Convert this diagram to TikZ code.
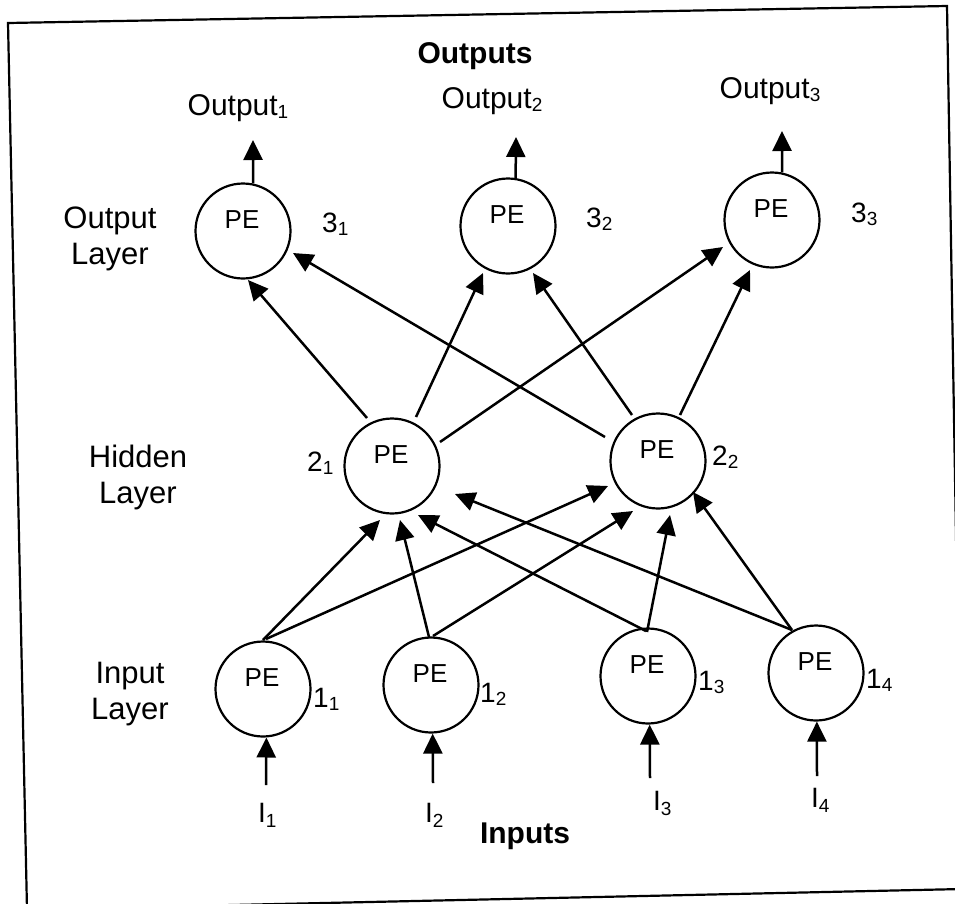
\documentclass[tikz,border=0pt]{standalone}
\usepackage{fontspec}
\setmainfont{Liberation Sans}
\usetikzlibrary{arrows.meta}
\newcommand\sbs[1]{\raisebox{-3pt}{\fontsize{19}{19}\selectfont #1}}
\newcommand\sbi[1]{\raisebox{-5pt}{\fontsize{19}{19}\selectfont #1}}
\begin{document}
\begin{tikzpicture}[x=1pt,y=-1pt,
  pe/.style={circle, draw, line width=2.2pt, minimum size=95pt, inner sep=0pt,
    label={[yshift=11pt,xshift=-1pt,font=\fontsize{26}{26}\selectfont]center:PE}},
  conn/.style={line width=2.5pt, -{Triangle[length=20pt,width=19pt]}},
  layerlbl/.style={align=center, inner sep=0pt, font=\fontsize{31}{36}\selectfont},
  toplbl/.style={anchor=base, inner sep=0pt, font=\fontsize{30}{30}\selectfont},
  numlbl/.style={anchor=base west, inner sep=0pt, font=\fontsize{28}{28}\selectfont},
  boldlbl/.style={anchor=base, inner sep=0pt, font=\fontsize{30}{30}\selectfont\bfseries}]
\useasboundingbox (0,0) rectangle (955,903);
\clip (0,0) rectangle (955,903);
% frame
\draw[line width=2.2pt] (8,23) -- (947,6) -- (962,889) -- (27,909.5) -- cycle;

% nodes
\node[pe] (o1) at (243,231) {};
\node[pe] (o2) at (508,226) {};
\node[pe] (o3) at (772,220) {};
\node[pe] (h1) at (392,466) {};
\node[pe] (h2) at (658,461) {};
\node[pe] (i1) at (263,689) {};
\node[pe] (i2) at (431,685) {};
\node[pe] (i3) at (648,676) {};
\node[pe] (i4) at (816,673) {};

% labels
\node[boldlbl] (outs) at (475,63) {Outputs};
\node[boldlbl] (ins) at (525,843) {Inputs};
\node[toplbl] (t1) at (238,115) {Output\sbs{1}};
\node[toplbl] (t2) at (492,108) {Output\sbs{2}};
\node[toplbl] (t3) at (770,98) {Output\sbs{3}};
\node[layerlbl] (lo) at (110,239) {Output\\Layer};
\node[layerlbl] (lh) at (138,477) {Hidden\\Layer};
\node[layerlbl] (li) at (130,694) {Input\\Layer};
\node[numlbl] (n31) at (322,232) {3\sbs{1}};
\node[numlbl] (n32) at (586,227) {3\sbs{2}};
\node[numlbl] (n33) at (851,222) {3\sbs{3}};
\node[numlbl] (n21) at (307,471) {2\sbs{1}};
\node[numlbl] (n22) at (712,465) {2\sbs{2}};
\node[numlbl] (n11) at (313,707) {1\sbs{1}};
\node[numlbl] (n12) at (480,702) {1\sbs{2}};
\node[numlbl] (n13) at (698,690) {1\sbs{3}};
\node[numlbl] (n14) at (866,688) {1\sbs{4}};
\node[numlbl] (x1) at (258,822) {I\sbi{1}};
\node[numlbl] (x2) at (425,822) {I\sbi{2}};
\node[numlbl] (x3) at (653,810) {I\sbi{3}};
\node[numlbl] (x4) at (811,807) {I\sbi{4}};

% free ends
\coordinate (a1) at (253,140);
\coordinate (a2) at (516,137);
\coordinate (a3) at (782,131);
\coordinate (b1) at (266,785);
\coordinate (b2) at (433,783);
\coordinate (b3) at (650,778);
\coordinate (b4) at (817,776);

% output arrows
\draw[conn] (o1.78) -- (a1);
\draw[conn] (o2.81) -- (a2);
\draw[conn] (o3.78) -- (a3);

% input arrows
\draw[conn] (b1) -- (i1.274);
\draw[conn] (b2) -- (i2.272);
\draw[conn] (b3) -- (i3.272);
\draw[conn] (b4) -- (i4.271);

% hidden -> output
\draw[conn] ([shift={(-25,-48)}]h1.center) -- ([shift={(5,49)}]o1.center);
\draw[conn] ([shift={(24,-49)}]h1.center) -- ([shift={(-25,47)}]o2.center);
\draw[conn] ([shift={(48,-24)}]h1.center) -- ([shift={(-49,27)}]o3.center);
\draw[conn] ([shift={(-53,-24)}]h2.center) -- ([shift={(50,22)}]o1.center);
\draw[conn] ([shift={(-26,-46)}]h2.center) -- ([shift={(25,47)}]o2.center);
\draw[conn] ([shift={(22,-46)}]h2.center) -- ([shift={(-22,50)}]o3.center);

% input -> hidden
\draw[conn] ([shift={(0,-49)}]i1.center) -- ([shift={(-12,54)}]h1.center);
\draw[conn] ([shift={(3,-50)}]i1.center) -- ([shift={(-50,25)}]h2.center);
\draw[conn] ([shift={(-2,-48)}]i2.center) -- ([shift={(8,54)}]h1.center);
\draw[conn] ([shift={(2,-49)}]i2.center) -- ([shift={(-25,50)}]h2.center);
\draw[conn] ([shift={(-2,-45)}]i3.center) -- ([shift={(26,49)}]h1.center);
\draw[conn] ([shift={(-1,-44)}]i3.center) -- ([shift={(12,54)}]h2.center);
\draw[conn] ([shift={(-24,-43)}]i4.center) -- ([shift={(63,28)}]h1.center);
\draw[conn] ([shift={(-24,-43)}]i4.center) -- ([shift={(35,31)}]h2.center);
\end{tikzpicture}
\end{document}
